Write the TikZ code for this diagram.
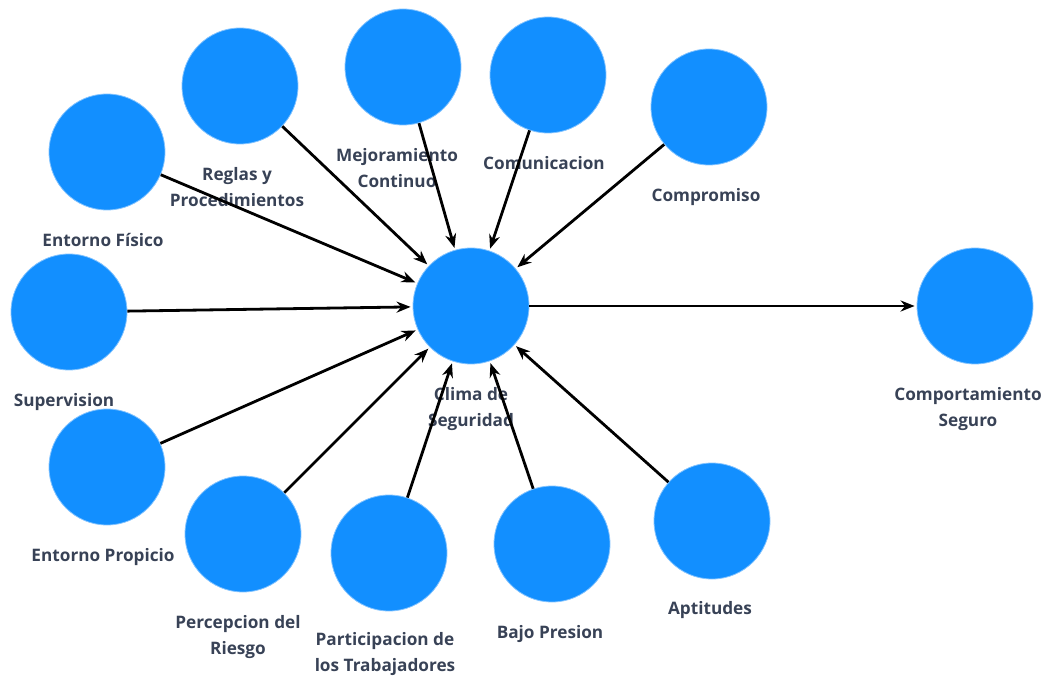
\documentclass[tikz,border=0pt]{standalone}
\usepackage{fontspec}
\setmainfont{Open Sans}
\usepackage{xcolor}
\usetikzlibrary{positioning,arrows.meta}

\definecolor{bubble}{RGB}{18,143,255}
\definecolor{bubbleedge}{RGB}{130,195,255}
\definecolor{labeltext}{RGB}{56,66,86}

\tikzset{
    factor/.style={circle, fill=bubble, draw=bubbleedge, line width=0.8pt, minimum size=116pt, inner sep=0pt},
    caption/.style={font=\fontsize{17.2}{26}\selectfont\bfseries, text=labeltext, align=center, inner sep=0pt},
    link/.style={-{Stealth[length=14pt,width=11pt]}, line width=2.8pt, shorten >=2pt}
}

\begin{document}
\begin{tikzpicture}[x=1pt,y=-1pt]
    \useasboundingbox (0,0) rectangle (1045,676);

    % Factors
    \node[factor] (clima)   at (471,306) {};
    \node[factor] (comport) at (975,306) {};
    \node[factor] (fisico)  at (107,152) {};
    \node[factor] (reglas)  at (240,86)  {};
    \node[factor] (mejora)  at (403,67)  {};
    \node[factor] (comunic) at (548,75)  {};
    \node[factor] (comprom) at (709,107) {};
    \node[factor] (superv)  at (69,312)  {};
    \node[factor] (propic)  at (107,467) {};
    \node[factor] (riesgo)  at (243,534) {};
    \node[factor] (partic)  at (389,553) {};
    \node[factor] (presion) at (552,544) {};
    \node[factor] (aptit)   at (712,521) {};

    % Captions
    \node[caption, below=23pt of clima]   (climal)   {Clima de\\Seguridad};
    \node[caption, below=23pt of comport, xshift=-7pt] (comportl) {Comportamiento\\Seguro};
    \node[caption, below=23pt of fisico, xshift=-4pt]  (fisicol)  {Entorno Físico};
    \node[caption, below=23pt of reglas, xshift=-3pt]  (reglasl)  {Reglas y\\Procedimientos};
    \node[caption, below=23pt of mejora, xshift=-6pt]  (mejoral)  {Mejoramiento\\Continuo};
    \node[caption, below=23pt of comunic, xshift=-4pt] (comunicl) {Comunicacion};
    \node[caption, below=23pt of comprom, xshift=-3pt] (compromil) {Compromiso};
    \node[caption, below=23pt of superv, xshift=-5pt]  (supervl)  {Supervision};
    \node[caption, below=23pt of propic, xshift=-4pt]  (propicl)  {Entorno Propicio};
    \node[caption, below=23pt of riesgo, xshift=-5pt]  (riesgol)  {Percepcion del\\Riesgo};
    \node[caption, below=21pt of partic, xshift=-4pt]  (particl)  {Participacion de\\los Trabajadores};
    \node[caption, below=23pt of presion, xshift=-2pt] (presionl) {Bajo Presion};
    \node[caption, below=22pt of aptit, xshift=-2pt]   (aptitl)   {Aptitudes};

    % Links
    \foreach \src in {fisico,reglas,mejora,comunic,comprom,superv,propic,riesgo,partic,presion,aptit}
        \draw[link] (\src) -- (clima);
    \draw[link] (clima) -- (comport);
\end{tikzpicture}
\end{document}
